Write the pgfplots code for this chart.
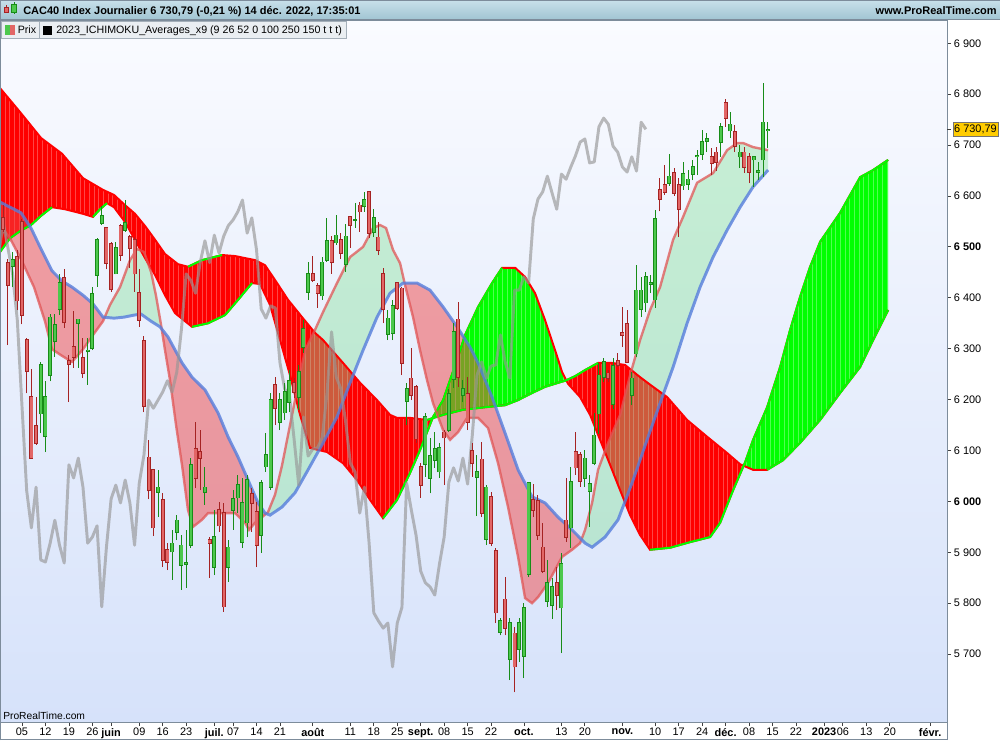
\documentclass[border=0pt]{standalone}
\usepackage{pgfplots}
\pgfplotsset{compat=1.18}
\usepackage{pgfplotstable}
\usepgfplotslibrary{fillbetween}
\usetikzlibrary{patterns.meta}
\usepackage{fontspec}
\setmainfont{Liberation Sans}

\definecolor{cloudred}{RGB}{255,0,0}
\definecolor{cloudgreen}{RGB}{0,255,0}
\definecolor{stripered}{RGB}{255,70,70}
\definecolor{stripegreen}{RGB}{80,255,80}
\definecolor{cgreen}{RGB}{76,200,76}
\definecolor{cgreenedge}{RGB}{24,140,24}
\definecolor{cred}{RGB}{226,102,102}
\definecolor{crededge}{RGB}{165,35,35}
\definecolor{pinkfill}{RGB}{240,70,70}
\definecolor{pinkline}{RGB}{225,85,85}
\definecolor{blueline}{RGB}{85,125,220}
\definecolor{mintfill}{RGB}{130,225,150}
\definecolor{chikou}{RGB}{150,150,150}
\definecolor{bgtop}{RGB}{250,251,255}
\definecolor{bgbottom}{RGB}{214,226,250}
\definecolor{frame}{RGB}{125,140,155}
\definecolor{headtop}{RGB}{200,224,234}
\definecolor{headbot}{RGB}{160,196,210}
\definecolor{tagyellow}{RGB}{255,204,0}
\definecolor{legbg}{RGB}{234,238,242}

% daily candles, t = trading day (0 = 5 May 2022)
\pgfplotstableread{
t o h l c
-4 6557 6582 6529 6534
-3 6469 6476 6307 6425
-2 6462 6490 6422 6475
-1 6480 6493 6376 6394
0 6549 6554 6348 6366
1 6317 6321 6212 6256
2 6205 6260 6084 6085
3 6149 6205 6111 6114
4 6172 6273 6134 6268
5 6128 6236 6097 6205
6 6247 6368 6236 6362
7 6314 6368 6284 6347
8 6378 6446 6366 6429
9 6439 6456 6341 6351
10 6277 6287 6195 6270
11 6304 6375 6263 6283
12 6350 6359 6263 6358
13 6282 6321 6243 6251
14 6294 6321 6229 6297
15 6300 6422 6297 6408
16 6445 6518 6422 6515
17 6547 6581 6543 6561
18 6538 6540 6456 6468
19 6506 6510 6412 6416
20 6447 6510 6446 6498
21 6542 6544 6473 6484
22 6533 6592 6530 6547
23 6520 6523 6459 6498
24 6515 6520 6412 6447
25 6410 6456 6343 6356
26 6315 6324 6175 6187
27 6087 6121 6004 6021
28 6062 6064 5932 5948
29 6018 6062 5969 6028
30 6003 6016 5871 5885
31 5905 5918 5865 5881
32 5901 5944 5846 5918
33 5940 5973 5924 5963
34 5875 5934 5826 5914
35 5877 5944 5830 5879
36 5914 6085 5908 6072
37 6103 6156 6026 6046
38 6097 6140 6022 6085
39 6018 6068 5993 6028
40 5924 5930 5850 5918
41 5871 5983 5855 5930
42 5983 5999 5940 5952
43 5977 5997 5783 5793
44 5871 5924 5842 5910
45 5983 6022 5944 6005
46 6007 6052 5977 6032
47 5920 6046 5908 5997
48 5958 6052 5930 6042
49 6015 6026 5940 5997
50 5979 5999 5871 5914
51 5934 6042 5899 6036
52 6068 6134 6058 6091
53 6028 6213 6022 6199
54 6229 6244 6150 6183
55 6156 6213 6140 6199
56 6174 6233 6160 6215
57 6195 6258 6176 6237
58 6233 6242 6203 6215
59 6205 6268 6180 6254
60 6303 6356 6292 6339
61 6411 6470 6396 6447
62 6447 6482 6431 6434
63 6423 6429 6380 6409
64 6404 6481 6396 6470
65 6474 6557 6471 6512
66 6512 6521 6447 6469
67 6508 6563 6504 6523
68 6514 6528 6476 6488
69 6466 6545 6451 6521
70 6559 6561 6498 6542
71 6552 6586 6538 6553
72 6582 6589 6530 6569
73 6579 6608 6569 6592
74 6608 6608 6517 6527
75 6528 6574 6519 6557
76 6519 6548 6484 6494
77 6447 6458 6350 6378
78 6329 6376 6317 6360
79 6331 6396 6317 6384
80 6430 6432 6376 6380
81 6419 6422 6248 6272
82 6197 6233 6150 6221
83 6242 6301 6199 6209
84 6225 6229 6115 6123
85 6068 6075 6007 6032
86 6073 6174 6048 6166
87 6046 6125 6016 6089
88 6081 6136 6066 6103
89 6058 6115 6046 6105
90 6136 6140 6032 6125
91 6140 6221 6136 6211
92 6240 6350 6223 6333
93 6358 6392 6225 6244
94 6209 6238 6195 6221
95 6211 6244 6140 6156
96 6099 6115 6048 6075
97 6048 6091 5971 6058
98 6083 6117 5969 5977
99 5926 6032 5914 6028
100 6010 6018 5912 5918
101 5903 5908 5761 5781
102 5743 5771 5737 5765
103 5808 5851 5737 5751
104 5690 5771 5649 5761
105 5741 5753 5625 5675
106 5710 5771 5684 5761
107 5696 5800 5653 5792
108 5857 6038 5851 6036
109 6003 6034 5969 5983
110 6001 6013 5924 5934
111 5910 5958 5859 5863
112 5804 5885 5793 5840
113 5795 5850 5769 5832
114 5840 5871 5787 5816
115 5791 5899 5702 5877
116 5963 6046 5920 5930
117 5948 6068 5908 6038
118 6097 6136 6052 6066
119 6091 6097 6028 6040
120 6046 6101 6028 6085
121 6020 6052 5950 6034
122 6075 6174 6071 6130
123 6172 6272 6132 6248
124 6244 6282 6235 6274
125 6252 6258 6235 6242
126 6191 6282 6181 6266
127 6276 6291 6264 6268
128 6331 6382 6303 6327
129 6350 6376 6272 6274
130 6209 6254 6189 6242
131 6290 6464 6284 6415
132 6378 6441 6362 6415
133 6390 6451 6372 6441
134 6427 6445 6409 6429
135 6396 6572 6380 6555
136 6612 6635 6570 6594
137 6622 6661 6602 6608
138 6625 6682 6620 6639
139 6645 6655 6600 6606
140 6623 6635 6519 6574
141 6620 6667 6612 6643
142 6623 6651 6612 6633
143 6643 6671 6631 6657
144 6677 6690 6641 6679
145 6682 6730 6671 6706
146 6708 6724 6686 6712
147 6677 6694 6641 6665
148 6686 6696 6649 6667
149 6706 6743 6677 6736
150 6783 6791 6736 6753
151 6728 6765 6714 6741
152 6726 6739 6686 6698
153 6677 6700 6655 6686
154 6686 6696 6645 6657
155 6677 6684 6625 6647
156 6671 6679 6618 6677
157 6647 6667 6631 6649
158 6671 6822 6637 6745
159 6728 6745 6694 6731
}\candles

% cloud edges (shifted 26 days ahead)
\pgfplotstableread{
t p
-4.69 6812
-0.43 6765
4.05 6714
8.53 6683
13.01 6635
17.27 6612
19.62 6602
21.96 6582
24.09 6565
26.23 6541
28.36 6514
30.49 6486
33.26 6466
35.39 6461
38.38 6474
42.64 6484
45.42 6482
49.68 6474
51.81 6464
53.94 6435
56.72 6396
59.70 6362
62.47 6331
64.18 6317
68.44 6272
72.07 6233
75.69 6199
78.46 6170
79.96 6164
82.73 6164
86.35 6160
89.77 6170
94.03 6180
98.72 6185
102.99 6189
105.76 6199
108.74 6213
111.51 6225
114.29 6233
115.78 6237
117.91 6246
120.04 6258
122.81 6272
125.80 6272
128.57 6268
131.77 6244
134.54 6225
137.53 6205
141.79 6160
146.06 6127
150.32 6095
153.09 6073
155.86 6062
158.85 6062
162.26 6081
165.88 6115
170.15 6160
174.41 6213
178.68 6264
181.45 6317
184.65 6376
}\spanA

\pgfplotstableread{
t p
-4.69 6490
-2.56 6517
-0.43 6531
1.92 6543
4.05 6561
6.40 6578
9.17 6574
13.01 6565
15.14 6559
16.63 6574
18.12 6586
19.62 6578
21.96 6549
24.09 6514
26.23 6478
28.36 6445
30.49 6405
32.62 6370
36.25 6343
39.66 6350
43.28 6366
46.06 6396
49.04 6429
50.75 6427
52.88 6386
55.01 6317
57.14 6248
59.28 6170
61.41 6105
65.03 6097
68.44 6075
71.43 6042
74.20 6003
76.97 5967
79.96 6003
82.73 6056
84.86 6101
86.35 6136
87.63 6166
89.77 6199
92.75 6278
94.46 6327
97.23 6382
100.21 6429
102.35 6459
105.12 6459
107.25 6441
109.38 6409
111.51 6356
113.65 6297
115.14 6254
116.42 6231
118.98 6205
121.11 6170
123.24 6121
125.37 6072
127.51 6022
129.64 5973
131.77 5934
133.90 5905
138.17 5909
142.43 5920
146.70 5930
148.83 5958
151.60 6022
154.16 6077
155.86 6121
158.85 6185
161.62 6264
163.75 6337
165.88 6402
168.02 6461
170.15 6510
174.41 6567
178.68 6637
181.45 6651
184.65 6671
}\spanB

% fast average (salmon) and slow average (blue)
\pgfplotstableread{
t p
-4.69 6543
-2.56 6517
-0.21 6476
2.56 6421
4.90 6354
6.40 6299
8.53 6286
10.66 6274
13.01 6299
15.14 6327
17.27 6354
18.76 6386
20.90 6421
23.03 6474
24.52 6496
26.01 6490
27.51 6451
28.57 6404
29.64 6347
30.49 6297
31.56 6238
32.84 6150
34.12 6071
35.39 5983
36.46 5950
38.38 5964
39.66 5977
42.64 5977
45.42 5977
47.55 5958
48.40 5944
49.68 5958
51.17 5969
52.45 5979
53.94 6013
55.44 6071
57.14 6150
58.85 6229
60.34 6297
62.47 6337
64.18 6372
67.16 6429
69.94 6480
72.71 6500
74.84 6537
76.33 6543
77.61 6537
79.10 6494
80.60 6468
81.66 6425
83.37 6362
84.86 6297
86.35 6238
87.63 6193
89.77 6140
91.26 6121
92.96 6136
94.88 6164
97.23 6164
99.36 6144
101.49 6075
103.62 5989
105.76 5891
107.25 5810
108.74 5800
110.02 5812
112.15 5840
115.14 5891
117.27 5905
118.98 5918
120.04 5944
121.54 5997
122.81 6062
124.95 6115
127.51 6170
129.64 6248
131.77 6317
133.90 6376
136.03 6421
138.81 6514
140.94 6559
143.92 6626
147.33 6645
150.32 6690
152.45 6704
153.73 6704
155.86 6696
159.06 6690
}\maFast

\pgfplotstableread{
t p
-4.69 6588
-2.56 6578
-0.21 6567
1.92 6537
4.05 6496
6.40 6453
8.53 6433
10.66 6421
13.01 6405
15.14 6388
17.27 6362
19.62 6360
21.75 6362
23.88 6366
25.37 6368
27.51 6354
29.42 6343
31.13 6323
34.12 6272
36.25 6244
39.02 6219
41.79 6174
43.92 6127
46.06 6087
48.19 6042
50.32 5997
51.81 5977
52.88 5973
55.44 5989
58.21 6017
60.98 6062
64.18 6115
67.16 6166
69.94 6233
72.71 6297
75.69 6362
78.46 6409
81.24 6429
84.22 6429
86.99 6415
89.77 6382
92.75 6343
95.52 6303
97.23 6272
100.21 6205
102.99 6134
105.76 6062
108.74 6009
111.51 5997
114.29 5969
117.27 5944
120.04 5918
121.54 5910
124.31 5930
127.08 5964
130.28 6042
133.26 6121
136.03 6193
138.81 6264
141.79 6350
144.56 6421
147.33 6480
150.32 6533
153.09 6578
155.86 6618
159.06 6651
}\maSlow

\pgfplotsset{
  wick/.style={draw=none, mark=none, forget plot,
    error bars/y dir=plus, error bars/y explicit, error bars/error mark=none,
    error bars/error bar style={line width=0.75pt, draw=#1}},
  body/.style 2 args={draw=none, mark=none, forget plot,
    error bars/y dir=plus, error bars/y explicit, error bars/error mark=none,
    error bars/error bar style={line width=#2, draw=#1}},
  upday/.style={restrict expr to domain={\thisrow{c}-\thisrow{o}}{0:100000}},
  downday/.style={restrict expr to domain={\thisrow{c}-\thisrow{o}}{-100000:-0.5}},
  redcloud/.style={fill=cloudred, draw=none,
    postaction={pattern={Lines[angle=90,distance=3.52pt,line width=0.25pt]}, pattern color=stripered}},
  greencloud/.style={fill=cloudgreen, draw=none,
    postaction={pattern={Lines[angle=90,distance=3.52pt,line width=0.25pt]}, pattern color=stripegreen}},
}

\begin{document}
\begin{tikzpicture}
\begin{scope}[x=0.75pt, y=0.75pt]
\shade[top color=headtop, bottom color=headbot] (0,720) rectangle (1000,740);
\end{scope}

\begin{axis}[
  at={(0pt,13.5pt)}, anchor=south west,
  scale only axis, width=710.25pt, height=525.75pt,
  xmin=-4.69, xmax=197.2, ymin=5566.6, ymax=6943.8,
  axis background/.style={top color=bgtop, bottom color=bgbottom},
  axis line style={draw=frame, line width=0.75pt},
  xtick pos=left, ytick pos=right, yticklabel pos=right,
  tick align=outside, major tick length=3pt,
  tick style={draw=black!75, line width=0.6pt},
  xtick={0,5,10,15,19,25,30,35,41,45,50,55,62,70,75,80,85,90,95,100,107,115,120,128,135,140,145,150,155,160,165,171,175,180,185,193.6},
  xticklabels={05,12,19,26,\textbf{juin},09,16,23,\textbf{juil.},07,14,21,\textbf{août},11,18,25,\textbf{sept.},08,15,22,\textbf{oct.},13,20,\textbf{nov.},10,17,24,\textbf{déc.},08,15,22,\textbf{2023},06,13,20,\textbf{févr.}},
  ytick={5700,5800,...,6900},
  yticklabels={5 700,5 800,5 900,\textbf{6 000},6 100,6 200,6 300,6 400,\textbf{6 500},6 600,6 700,6 800,6 900},
  tick label style={font=\fontsize{8.2}{9}\selectfont, text=black},
  xticklabel style={inner sep=1.5pt},
  yticklabel style={inner sep=2pt},
]

% Ichimoku cloud
\addplot[name path=A, draw=cloudred, line width=1.5pt] table {\spanA};
\addplot[name path=B, draw=cloudred, line width=1.5pt] table {\spanB};
\addplot fill between[of=A and B, split,
  every segment no 0/.style={redcloud},
  every segment no 1/.style={greencloud},
  every segment no 2/.style={redcloud},
  every segment no 3/.style={greencloud}];
% rising stretches of the cloud edges
\addplot[draw=cloudgreen, line width=1.5pt, restrict x to domain=35.3:42.7] table {\spanA};
\addplot[draw=cloudgreen, line width=1.5pt, restrict x to domain=86.3:122.9] table {\spanA};
\addplot[draw=cloudgreen, line width=1.5pt, restrict x to domain=158.8:185] table {\spanA};
\addplot[draw=cloudgreen, line width=1.5pt, restrict x to domain=-5:6.5] table {\spanB};
\addplot[draw=cloudgreen, line width=1.5pt, restrict x to domain=15.1:18.2] table {\spanB};
\addplot[draw=cloudgreen, line width=1.5pt, restrict x to domain=36.2:49.1] table {\spanB};
\addplot[draw=cloudgreen, line width=1.5pt, restrict x to domain=76.9:102.4] table {\spanB};
\addplot[draw=cloudgreen, line width=1.5pt, restrict x to domain=133.8:185] table {\spanB};

% averages band
\addplot[name path=F, draw=pinkline, draw opacity=0.75, line width=1.8pt] table {\maFast};
\addplot[name path=S, draw=blueline, draw opacity=0.8, line width=2.2pt] table {\maSlow};
\addplot fill between[of=F and S, split,
  every segment no 0/.style={fill=pinkfill, fill opacity=0.5, draw=none},
  every segment no 1/.style={fill=mintfill, fill opacity=0.4, draw=none},
  every segment no 2/.style={fill=pinkfill, fill opacity=0.5, draw=none},
  every segment no 3/.style={fill=mintfill, fill opacity=0.4, draw=none},
  every segment no 4/.style={fill=pinkfill, fill opacity=0.5, draw=none},
  every segment no 5/.style={fill=mintfill, fill opacity=0.4, draw=none}];

% lagging close
\addplot[draw=chikou, draw opacity=0.65, line width=2.2pt, line join=round]
  table[x expr=\thisrow{t}-26, y=c] {\candles};

% candles: wicks, then bodies
\addplot[upday, wick=cgreenedge] table[x=t, y=l, y error expr=\thisrow{h}-\thisrow{l}] {\candles};
\addplot[downday, wick=crededge] table[x=t, y=l, y error expr=\thisrow{h}-\thisrow{l}] {\candles};
\addplot[upday, body={cgreenedge}{3pt}] table[x=t, y expr=\thisrow{o}-1.2, y error expr=\thisrow{c}-\thisrow{o}+2.4] {\candles};
\addplot[downday, body={crededge}{3pt}] table[x=t, y expr=\thisrow{c}-1.2, y error expr=\thisrow{o}-\thisrow{c}+2.4] {\candles};
\addplot[upday, body={cgreen}{1.7pt}] table[x=t, y expr=\thisrow{o}+0.5, y error expr={max(\thisrow{c}-\thisrow{o}-1,0)}] {\candles};
\addplot[downday, body={cred}{1.7pt}] table[x=t, y expr=\thisrow{c}+0.5, y error expr={max(\thisrow{o}-\thisrow{c}-1,0)}] {\candles};

\coordinate (lastpx) at (axis cs:197.2,6730.79);
\end{axis}

\begin{scope}[x=0.75pt, y=0.75pt]
% frames
\draw[frame, line width=0.75pt] (0,720) -- (1000,720);
\draw[frame, line width=0.75pt] (0,739.6) -- (1000,739.6);
\draw[frame, line width=0.75pt] (947,0) -- (947,720);
\draw[frame, line width=0.75pt] (0.4,0) -- (0.4,740);
\draw[frame, line width=0.75pt] (0,0.4) -- (947,0.4);

% header
\fill[crededge] (5.5,727) rectangle (6.5,735);
\fill[cred, draw=crededge, line width=0.4pt] (4,728) rectangle (8,733);
\fill[cgreenedge] (13.5,726) rectangle (14.5,738);
\fill[cgreen, draw=cgreenedge, line width=0.4pt] (11.5,728) rectangle (16.5,736);
\node[anchor=base west, inner sep=0pt, font=\fontsize{8.25}{10}\selectfont\bfseries] at (23,725)
  {CAC40 Index Journalier 6 730,79 (-0,21 \%) 14 déc. 2022, 17:35:01};
\node[anchor=base east, inner sep=0pt, font=\fontsize{8.25}{10}\selectfont\bfseries] at (997,725)
  {www.ProRealTime.com};

% indicator tags
\draw[fill=legbg, draw=frame!70, line width=0.5pt] (1.5,701.5) rectangle (39,718.5);
\fill[cgreen] (5,705) rectangle (10,715);
\fill[cred] (10,705) rectangle (15,715);
\node[anchor=base west, inner sep=0pt, font=\fontsize{8}{9}\selectfont] at (17.5,706) {Prix};
\draw[fill=legbg, draw=frame!70, line width=0.5pt] (39,701.5) rectangle (346,718.5);
\fill[black] (43,705) rectangle (52,714);
\node[anchor=base west, inner sep=0pt, font=\fontsize{8}{9}\selectfont] at (56,706)
  {2023\_ICHIMOKU\_Averages\_x9 (9 26 52 0 100 250 150 t t t)};

\node[anchor=base west, inner sep=0pt, font=\fontsize{7.7}{9}\selectfont] at (3,20.5) {ProRealTime.com};

% last price tag
\draw[black!75, line width=0.6pt] (947,0 |- lastpx) -- (951,0 |- lastpx);
\node[anchor=west, fill=tagyellow, draw=black!55, line width=0.5pt, inner xsep=1pt, inner ysep=1.6pt,
  font=\fontsize{8.2}{9}\selectfont] at (952.5,0 |- lastpx) {6 730,79};
\end{scope}

\pgfresetboundingbox
\path (0,0) rectangle (750pt,555pt);
\end{tikzpicture}
\end{document}
